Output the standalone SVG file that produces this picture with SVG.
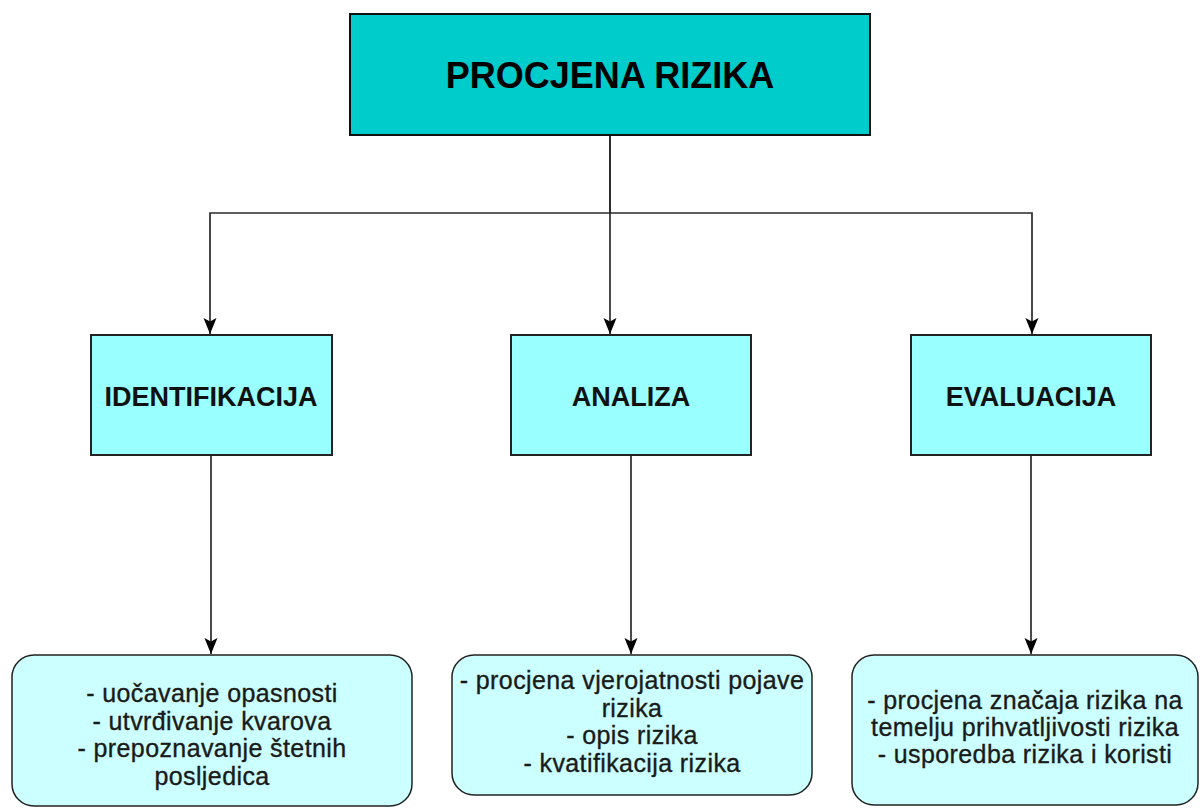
<svg xmlns="http://www.w3.org/2000/svg" width="1201" height="809" viewBox="0 0 1201 809">
  <style>
    .title { font-family: "Liberation Sans", Arial, sans-serif; font-weight: bold; font-size: 36px; fill: #000; text-anchor: middle; }
    .label { font-family: "Liberation Sans", Arial, sans-serif; font-weight: bold; font-size: 27px; fill: #111; text-anchor: middle; }
    .desc { font-family: "Liberation Sans", Arial, sans-serif; font-size: 25px; letter-spacing: 0.4px; fill: #1a1a1a; stroke: #1a1a1a; stroke-width: 0.35px; text-anchor: middle; }
    .main { fill: #00CCCC; stroke: #111; stroke-width: 2; }
    .phase { fill: #99FFFF; stroke: #222; stroke-width: 2; }
    .detail { fill: #CCFFFF; stroke: #222; stroke-width: 1.5; }
    .edge { fill: none; stroke: #2a2a2a; stroke-width: 1.7; }
  </style>
  <defs>
    <marker id="arrow" markerUnits="userSpaceOnUse" markerWidth="18" markerHeight="16" refX="16" refY="8" orient="auto">
      <path d="M0,1.5 L16,8 L0,14.5 L3.5,8 z" fill="#000"/>
    </marker>
  </defs>
  <rect width="1201" height="809" fill="#fff"/>

  <g id="connectors">
    <path class="edge" d="M610,135 V213 H210 V334" marker-end="url(#arrow)"/>
    <path class="edge" d="M610,135 V334" marker-end="url(#arrow)"/>
    <path class="edge" d="M610,213 H1032 V334" marker-end="url(#arrow)"/>
    <path class="edge" d="M211,455 V654" marker-end="url(#arrow)"/>
    <path class="edge" d="M631,455 V654" marker-end="url(#arrow)"/>
    <path class="edge" d="M1031,455 V654" marker-end="url(#arrow)"/>
  </g>

  <g id="procjena-rizika">
    <rect class="main" x="350" y="14" width="520" height="121"/>
    <text class="title" x="610" y="88">PROCJENA RIZIKA</text>
  </g>

  <g id="identifikacija">
    <rect class="phase" x="91" y="335" width="241" height="120"/>
    <text class="label" x="211" y="406">IDENTIFIKACIJA</text>
  </g>
  <g id="analiza">
    <rect class="phase" x="511" y="335" width="240" height="120"/>
    <text class="label" x="631" y="406">ANALIZA</text>
  </g>
  <g id="evaluacija">
    <rect class="phase" x="911" y="335" width="240" height="120"/>
    <text class="label" x="1031" y="406">EVALUACIJA</text>
  </g>

  <g id="identifikacija-detalji">
    <rect class="detail" x="12" y="655" width="400" height="151" rx="22" ry="22"/>
    <text class="desc" x="212" y="702">- uočavanje opasnosti</text>
    <text class="desc" x="212" y="729.5">- utvrđivanje kvarova</text>
    <text class="desc" x="212" y="757">- prepoznavanje štetnih</text>
    <text class="desc" x="212" y="784.5">posljedica</text>
  </g>
  <g id="analiza-detalji">
    <rect class="detail" x="452" y="655" width="360" height="140" rx="22" ry="22"/>
    <text class="desc" x="632" y="689">- procjena vjerojatnosti pojave</text>
    <text class="desc" x="632" y="717">rizika</text>
    <text class="desc" x="632" y="744">- opis rizika</text>
    <text class="desc" x="632" y="772">- kvatifikacija rizika</text>
  </g>
  <g id="evaluacija-detalji">
    <rect class="detail" x="852" y="655" width="346" height="150" rx="22" ry="22"/>
    <text class="desc" x="1025" y="709">- procjena značaja rizika na</text>
    <text class="desc" x="1025" y="736">temelju prihvatljivosti rizika</text>
    <text class="desc" x="1025" y="763">- usporedba rizika i koristi</text>
  </g>
</svg>
